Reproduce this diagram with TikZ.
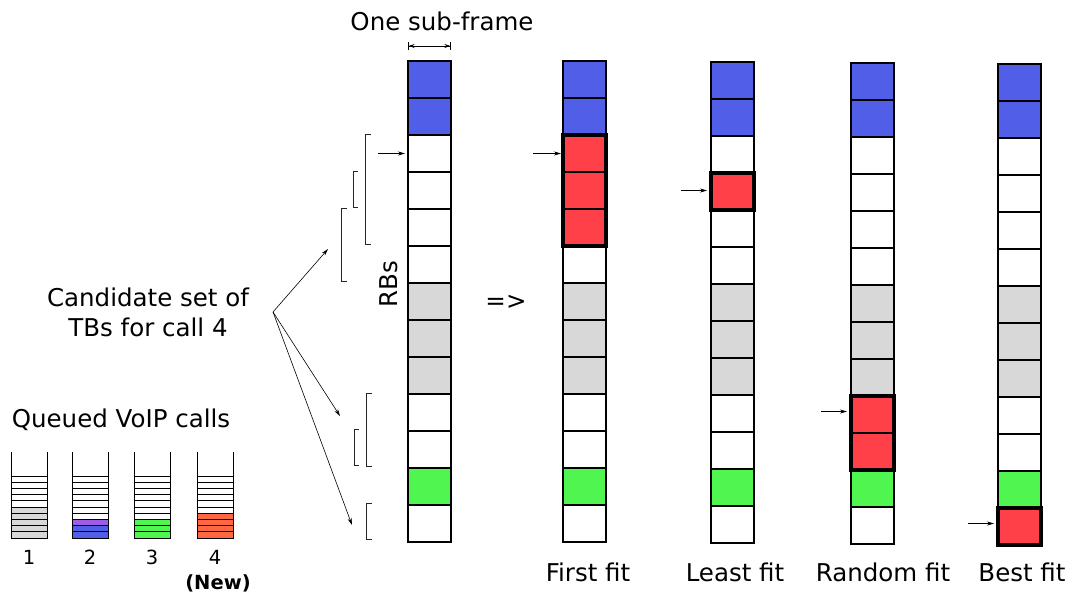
\documentclass[tikz,border=0pt]{standalone}
\usepackage{fontspec}
\setmainfont{DejaVu Sans}
\usetikzlibrary{arrows.meta,calc}
\definecolor{cellB}{RGB}{80,94,232}
\definecolor{cellW}{RGB}{255,255,255}
\definecolor{cellG}{RGB}{216,216,216}
\definecolor{cellN}{RGB}{80,245,80}
\definecolor{cellR}{RGB}{255,64,72}
\definecolor{qpurple}{RGB}{160,92,230}
\definecolor{qorange}{RGB}{255,102,66}
\begin{document}
\begin{tikzpicture}[x=1pt,y=-1pt,
  cell/.style={draw, line width=1.2pt, minimum width=43pt, minimum height=37pt, inner sep=0pt, outer sep=0pt},
  ptr/.style={-{Stealth[length=7pt,width=4pt]}, line width=0.6pt},
  bracket/.style={line width=0.9pt, draw=black!85},
  big/.style={font=\fontsize{24.5}{30}\selectfont, inner sep=0pt},
  small/.style={font=\fontsize{19.5}{23}\selectfont, inner sep=0pt}]
\useasboundingbox (0,0) rectangle (1072,595);

% the sub-frame columns: reference, first fit, least fit, random fit, best fit
\foreach \name/\xc/\top/\fills in {
  A/429.5/61/{B,B,W,W,W,W,G,G,G,W,W,N,W},
  F/584.5/61/{B,B,R,R,R,W,G,G,G,W,W,N,W},
  L/732.5/62/{B,B,W,R,W,W,G,G,G,W,W,N,W},
  R/872.5/63/{B,B,W,W,W,W,G,G,G,R,R,N,W},
  S/1019.5/64/{B,B,W,W,W,W,G,G,G,W,W,N,R}} {
  \foreach \f [count=\i from 0] in \fills {
    \node[cell, fill=cell\f] (\name\i) at (\xc, \top+18.5+37*\i) {};
  }
}

% allocated TBs for call 4
\draw[line width=3.2pt] (F2.north west) rectangle (F4.south east);
\draw[line width=3.2pt] (L3.north west) rectangle (L3.south east);
\draw[line width=3.2pt] (R9.north west) rectangle (R10.south east);
\draw[line width=3.2pt] (S12.north west) rectangle (S12.south east);

% start pointers
\coordinate (pA) at ($(A2.west)+(-30,0)$);
\coordinate (pF) at ($(F2.west)+(-30,0)$);
\coordinate (pL) at ($(L3.west)+(-30,-1)$);
\coordinate (pR) at ($(R9.west)+(-30,-3)$);
\coordinate (pS) at ($(S12.west)+(-30,-3)$);
\draw[ptr, shorten >=3pt] (pA) -- (A2.west);
\draw[ptr, shorten >=2pt] (pF) -- (F2.west);
\draw[ptr, shorten >=2pt] (pL) -- ++(28,0);
\draw[ptr, shorten >=2pt] (pR) -- ++(28,0);
\draw[ptr, shorten >=2pt] (pS) -- ++(28,0);

% sub-frame width
\draw[line width=0.6pt, {Bar[width=8pt]Stealth[length=6pt,width=4pt]}-{Stealth[length=6pt,width=4pt]Bar[width=8pt]}]
  ($(A0.north west)+(0,-15)$) -- ($(A0.north east)+(0,-15)$);
\node[big] (title) at (442,21) {One sub-frame};

% candidate TB sets
\draw[bracket] (371,134) -- (365,134) -- (365,244) -- (371,244);
\draw[bracket] (358,171) -- (353,171) -- (353,207) -- (358,207);
\draw[bracket] (347,208) -- (341,208) -- (341,281) -- (347,281);
\draw[bracket] (372,393) -- (366,393) -- (366,466) -- (372,466);
\draw[bracket] (359,429) -- (354,429) -- (354,465) -- (359,465);
\draw[bracket] (372,503) -- (366,503) -- (366,539) -- (372,539);

\node[big, align=center] (cand) at (148,312) {Candidate set of\\TBs for call 4};
\coordinate (fan) at (273,312);
\coordinate (t1) at (328,249);
\coordinate (t2) at (340,416);
\coordinate (t3) at (352,525);
\draw[ptr] (fan) -- (t1);
\draw[ptr] (fan) -- (t2);
\draw[ptr] (fan) -- (t3);

\node[big, rotate=90] (rbs) at (389,284) {RBs};
\node[big] (imp) at (506,302) {=>};

% column captions
\node[big] (capF) at (588,572) {First fit};
\node[big] (capL) at (735,572) {Least fit};
\node[big] (capR) at (883,572) {Random fit};
\node[big] (capS) at (1022,572) {Best fit};

% queued VoIP calls
\node[big] (queue) at (121,420) {Queued VoIP calls};
\fill[cellG] (11,507) rectangle (47,538);
\fill[qpurple] (72,519.6) rectangle (108,525.8);
\fill[cellB] (72,525.8) rectangle (108,538);
\fill[cellN] (134,519.4) rectangle (170,538);
\fill[qorange] (197,513.2) rectangle (233,538);
\foreach \xl [count=\k] in {11,72,134,197} {
  \draw[line width=0.9pt] (\xl,452) -- (\xl,538) -- (\xl+36,538) -- (\xl+36,452);
  \foreach \j in {0,...,9} \draw[line width=0.8pt] (\xl,476+6.2*\j) -- ++(36,0);
  \node[small] (n\k) at (\xl+18,557) {\k};
}
\node[small, font=\fontsize{19.5}{23}\selectfont\bfseries] (new) at (218,583) {(New)};
\end{tikzpicture}
\end{document}
